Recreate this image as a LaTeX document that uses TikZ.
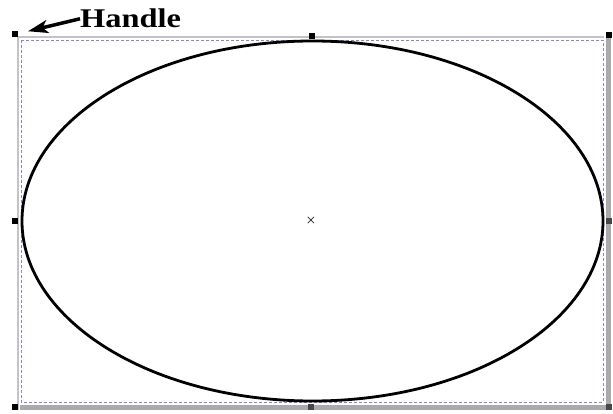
\documentclass[tikz,border=0pt]{standalone}
\usepackage{fontspec}
\setmainfont{Liberation Serif}
\usetikzlibrary{positioning,arrows.meta}
\definecolor{marco}{RGB}{140,130,205}
\definecolor{sombra}{RGB}{168,170,172}
\definecolor{guia}{RGB}{195,195,195}

\begin{document}
\begin{tikzpicture}[x=1pt, y=-1pt,
    manija/.style={draw=none, fill=black, minimum size=6pt, inner sep=0pt},
    manijagris/.style={manija, fill=black!72},
    rotulo/.style={font=\bfseries\fontsize{27}{27}\selectfont, inner sep=0pt, xscale=1.2},
    flecha/.style={-{Stealth[length=20pt, width=13pt, inset=5pt]}, line width=3.5pt}]
  \useasboundingbox (0,0) rectangle (613,414);
  % sombra y guias
  \fill[sombra] (606,38) rectangle (611,410);
  \fill[sombra] (20,405) rectangle (611,410);
  \draw[guia, line width=1.2pt] (18,410) -- (18,37) -- (604,37);
  % marco de seleccion
  \draw[marco, line width=0.9pt, dash pattern=on 3pt off 2pt] (21,40) rectangle (603,402);
  % elipse
  \draw[line width=2.8pt] (312.5,221) ellipse [x radius=290.5, y radius=180];
  % manijas
  \node[manija] (no) at (14.5,34.5) {};
  \node[manija] (n) at (312,36) {};
  \node[manija] (ne) at (608.5,35) {};
  \node[manija] (o) at (14.5,221) {};
  \node[manijagris] (e) at (608.5,221) {};
  \node[manija] (so) at (14.5,407) {};
  \node[manijagris] (s) at (311,407) {};
  \node[manijagris] (se) at (608.5,407) {};
  \node[font=\fontsize{13}{13}\selectfont\boldmath, inner sep=0pt] (centro) at (311,220.5) {$\times$};
  % rotulo
  \node[rotulo, anchor=base west] (asa) at (80,28) {Handle};
  \draw[flecha, shorten >=10.6pt] (asa.west) -- (no);
\end{tikzpicture}
\end{document}
